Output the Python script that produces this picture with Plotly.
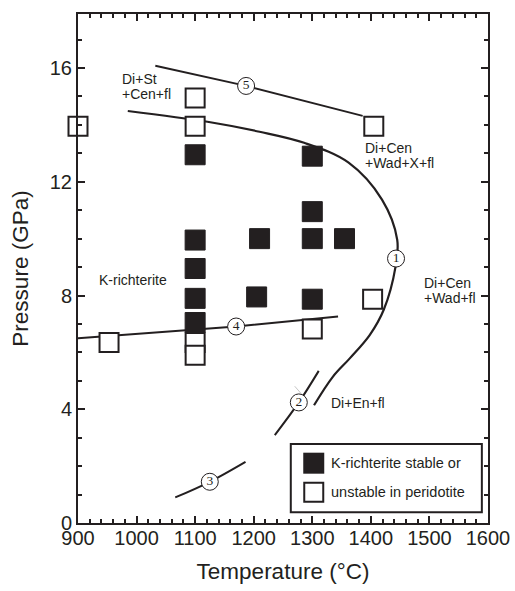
import plotly.graph_objects as go

# Experimental run conditions (temperature in °C, pressure in GPa)
stable_T = [1100, 1100, 1100, 1100, 1100, 1210, 1205, 1300, 1300, 1300, 1300, 1355]
stable_P = [12.95, 9.95, 8.95, 7.9, 7.05, 10.0, 7.95, 12.9, 10.95, 10.0, 7.87, 10.0]

unstable_T = [900, 1100, 1100, 1405, 953, 1100, 1100, 1300, 1403]
unstable_P = [13.95, 14.95, 13.95, 13.95, 6.35, 6.35, 5.9, 6.82, 7.87]

# Reaction boundaries
curve1_T = [985, 1121, 1210, 1286, 1362, 1419, 1445, 1442, 1422, 1398, 1364, 1335, 1303]
curve1_P = [14.49, 14.11, 13.76, 13.37, 12.67, 11.37, 9.96, 9.0, 7.5, 6.61, 5.79, 5.14, 4.14]
curve2_T = [1236, 1277, 1311]
curve2_P = [3.09, 4.24, 5.35]
curve3_T = [1066, 1125, 1186]
curve3_P = [0.90, 1.45, 2.15]
curve4_T = [900, 1170, 1344]
curve4_P = [6.5, 6.91, 7.26]
curve5_T = [1032, 1187, 1386]
curve5_P = [16.08, 15.37, 14.32]

# Reaction numbers placed on the boundaries
reaction_ids = ["5", "1", "4", "2", "3"]
reaction_T = [1187, 1443, 1170, 1277, 1125]
reaction_P = [15.37, 9.3, 6.91, 4.24, 1.45]

# Phase assemblage labels
field_lines = [["Di+St", "+Cen+fl"], ["Di+Cen", "+Wad+X+fl"], ["Di+Cen", "+Wad+fl"],
               ["K-richterite"], ["Di+En+fl"]]
field_T = [971, 1386, 1487, 932, 1328]
field_P = [15.35, 12.92, 8.17, 8.54, 4.22]

legend_labels = ["K-richterite stable or", "unstable in peridotite"]

INK = "#231f20"
SANS = "Liberation Sans, Arial, sans-serif"

fig = go.Figure()

line_specs = [
    (curve1_T, curve1_P, 2.2, "spline"),
    (curve2_T, curve2_P, 2.0, "spline"),
    (curve3_T, curve3_P, 2.0, "spline"),
    (curve4_T, curve4_P, 2.0, "linear"),
    (curve5_T, curve5_P, 1.8, "linear"),
]
for xs, ys, w, shape in line_specs:
    fig.add_trace(go.Scatter(x=xs, y=ys, mode="lines",
                             line=dict(color=INK, width=w, shape=shape, smoothing=1.0),
                             hoverinfo="skip", showlegend=False))

# faint leader line beside reaction 2
fig.add_trace(go.Scatter(x=[1270, 1281], y=[4.81, 4.55], mode="lines",
                         line=dict(color="#b8b8b8", width=0.8),
                         hoverinfo="skip", showlegend=False))

fig.add_trace(go.Scatter(x=stable_T, y=stable_P, mode="markers",
                         marker=dict(symbol="square", size=20, color=INK,
                                     line=dict(color=INK, width=1)),
                         cliponaxis=False, showlegend=False))
fig.add_trace(go.Scatter(x=unstable_T, y=unstable_P, mode="markers",
                         marker=dict(symbol="square", size=19, color="white",
                                     line=dict(color=INK, width=2)),
                         cliponaxis=False, showlegend=False))

fig.add_trace(go.Scatter(x=reaction_T, y=reaction_P, mode="markers+text",
                         text=reaction_ids, textposition="middle center",
                         textfont=dict(family="Liberation Serif, Times New Roman, serif",
                                       size=13.5, color=INK),
                         marker=dict(symbol="circle", size=17, color="white",
                                     line=dict(color=INK, width=1)),
                         hoverinfo="skip", showlegend=False))

annotations = []
LINE_GAP = 15
for lines, tx, py in zip(field_lines, field_T, field_P):
    n = len(lines)
    for i, txt in enumerate(lines):
        shift = ((n - 1) / 2 - i) * LINE_GAP
        annotations.append(dict(x=tx, y=py, xref="x", yref="y", text=txt,
                                showarrow=False, xanchor="left", yanchor="middle",
                                yshift=shift, font=dict(family=SANS, size=14, color=INK)))

# Hand-built key in the lower right corner
shapes = [dict(type="rect", xref="paper", yref="paper", x0=0.519, x1=0.985,
               y0=0.021, y1=0.155, line=dict(color=INK, width=2), fillcolor="white",
               layer="above")]
key_y = [0.1175, 0.0605]
shapes.append(dict(type="rect", xref="paper", yref="paper", xsizemode="pixel",
                   ysizemode="pixel", xanchor=0.575, yanchor=key_y[0],
                   x0=-10.5, x1=10.5, y0=-10.5, y1=10.5,
                   fillcolor=INK, line=dict(width=0), layer="above"))
shapes.append(dict(type="rect", xref="paper", yref="paper", xsizemode="pixel",
                   ysizemode="pixel", xanchor=0.575, yanchor=key_y[1],
                   x0=-9.5, x1=9.5, y0=-9.5, y1=9.5,
                   fillcolor="white", line=dict(color=INK, width=2), layer="above"))
for lab, ky in zip(legend_labels, key_y):
    annotations.append(dict(x=0.611, y=ky, xref="paper", yref="paper", text=lab,
                            showarrow=False, xanchor="left", yanchor="middle",
                            font=dict(family=SANS, size=14.5, color=INK)))

axis_common = dict(showline=True, linecolor=INK, linewidth=2, mirror="ticks",
                   ticks="inside", ticklen=7, tickwidth=1.5, tickcolor=INK,
                   showgrid=False, zeroline=False, automargin=False,
                   tickfont=dict(family=SANS, size=20, color=INK))

fig.update_layout(
    width=515, height=591,
    margin=dict(l=78, r=27, t=14, b=68),
    paper_bgcolor="white", plot_bgcolor="white",
    xaxis=dict(range=[900, 1600], tick0=900, dtick=100, ticklabelstandoff=-4,
               minor=dict(dtick=20, ticks="inside", ticklen=4, tickwidth=1.5, tickcolor=INK),
               title=dict(text="Temperature (°C)",
                          font=dict(family=SANS, size=22.5, color=INK)),
               **axis_common),
    yaxis=dict(range=[0, 17.9], tick0=0, dtick=4,
               minor=dict(dtick=1, ticks="inside", ticklen=4, tickwidth=1.5, tickcolor=INK),
               title=dict(text="Pressure (GPa)",
                          font=dict(family=SANS, size=22.5, color=INK)),
               **axis_common),
    annotations=annotations,
    shapes=shapes,
    showlegend=False,
)

fig.write_html("out.html")
